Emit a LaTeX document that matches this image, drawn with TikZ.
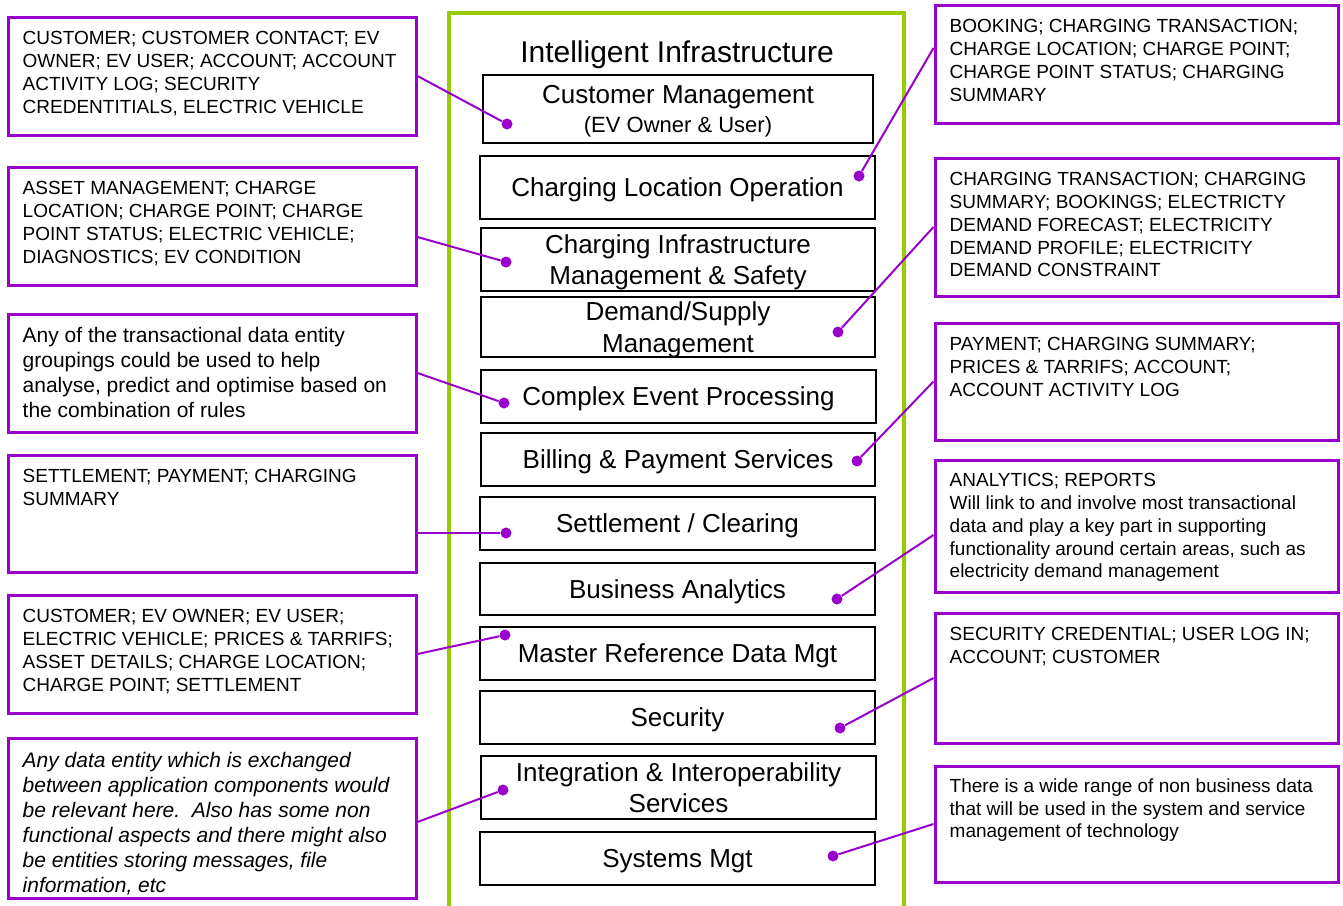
\documentclass[tikz,border=0pt]{standalone}
\usepackage{fontspec}
\setmainfont{Liberation Sans}
\definecolor{evpurple}{RGB}{153,0,204}
\definecolor{evgreen}{RGB}{153,204,0}
\tikzset{
	layer/.style={draw=black, line width=1.2pt, align=center, inner sep=0pt, text depth=0pt, font=\fontsize{26}{31.5}\selectfont},
	sidebox/.style={draw=evpurple, line width=3pt, minimum width=408pt, inner sep=0pt},
	sidetext/.style={anchor=north west, align=left, inner sep=0pt, font=\fontsize{19}{22.7}\selectfont},
	notetext/.style={anchor=north west, align=left, inner sep=0pt, font=\fontsize{21}{25}\selectfont},
	dot/.style={circle, fill=evpurple, inner sep=0pt, minimum size=11pt},
	link/.style={draw=evpurple, line width=2pt}
}
\begin{document}
\begin{tikzpicture}[x=1pt,y=-1pt]
		\useasboundingbox (0,0) rectangle (1343,905);
		\draw[evgreen, line width=4pt] (449,915) -- (449,13) -- (904,13) -- (904,915);
		\node[font=\fontsize{30}{36}\selectfont] (title) at (677,55) {Intelligent Infrastructure};
		
		\node[layer, minimum width=390pt, minimum height=68pt] (B1) at (678,109) {Customer Management\\[-3pt]{\fontsize{22}{26}\selectfont (EV Owner \& User)}};
		\node[layer, minimum width=395pt, minimum height=63pt] (B2) at (677.5,187.5) {Charging Location Operation};
		\node[layer, minimum width=394pt, minimum height=63pt] (B3) at (678,259.5) {Charging Infrastructure\\Management \& Safety};
		\node[layer, minimum width=394pt, minimum height=60pt] (B4) at (678,327) {Demand/Supply\\Management};
		\node[layer, minimum width=395pt, minimum height=53pt] (B5) at (678.5,396.5) {Complex Event Processing};
		\node[layer, minimum width=394pt, minimum height=53pt] (B6) at (678,459.5) {Billing \& Payment Services};
		\node[layer, minimum width=395pt, minimum height=53pt] (B7) at (677.5,523.5) {Settlement / Clearing};
		\node[layer, minimum width=395pt, minimum height=52pt] (B8) at (677.5,589) {Business Analytics};
		\node[layer, minimum width=395pt, minimum height=53pt] (B9) at (677.5,653.5) {Master Reference Data Mgt};
		\node[layer, minimum width=395pt, minimum height=53pt] (B10) at (677.5,717.5) {Security};
		\node[layer, minimum width=395pt, minimum height=63pt] (B11) at (678.5,787.5) {Integration \& Interoperability\\Services};
		\node[layer, minimum width=395pt, minimum height=53pt] (B12) at (677.5,858.5) {Systems Mgt};
		
		\node[sidebox, minimum height=118pt] (L1) at (212,76) {};
		\node[sidebox, minimum height=118pt] (L2) at (212,226) {};
		\node[sidebox, minimum height=118pt] (L3) at (212,373) {};
		\node[sidebox, minimum height=117pt] (L4) at (212,513.5) {};
		\node[sidebox, minimum height=118pt] (L5) at (212,654) {};
		\node[sidebox, minimum height=160pt] (L6) at (212,818) {};
		\node[sidebox, minimum width=403pt, minimum height=118pt] (R1) at (1136.5,64) {};
		\node[sidebox, minimum width=403pt, minimum height=138pt] (R2) at (1136.5,227) {};
		\node[sidebox, minimum width=403pt, minimum height=117pt] (R3) at (1136.5,381.5) {};
		\node[sidebox, minimum width=403pt, minimum height=132pt] (R4) at (1136.5,526) {};
		\node[sidebox, minimum width=403pt, minimum height=130pt] (R5) at (1136.5,678) {};
		\node[sidebox, minimum width=403pt, minimum height=116pt] (R6) at (1136.5,824) {};
		
		\node[sidetext] (L1t) at ([xshift=16pt,yshift=-16pt]L1.north west) {CUSTOMER; CUSTOMER CONTACT; EV\\OWNER; EV USER; ACCOUNT; ACCOUNT\\ACTIVITY LOG; SECURITY\\CREDENTITIALS, ELECTRIC VEHICLE};
		\node[sidetext] (L2t) at ([xshift=16pt,yshift=-16pt]L2.north west) {ASSET MANAGEMENT; CHARGE\\LOCATION; CHARGE POINT; CHARGE\\POINT STATUS; ELECTRIC VEHICLE;\\DIAGNOSTICS; EV CONDITION};
		\node[notetext] (L3t) at ([xshift=16pt,yshift=-15pt]L3.north west) {Any of the transactional data entity\\groupings could be used to help\\analyse, predict and optimise based on\\the combination of rules};
		\node[sidetext] (L4t) at ([xshift=16pt,yshift=-16pt]L4.north west) {SETTLEMENT; PAYMENT; CHARGING\\SUMMARY};
		\node[sidetext] (L5t) at ([xshift=16pt,yshift=-16pt]L5.north west) {CUSTOMER; EV OWNER; EV USER;\\ELECTRIC VEHICLE; PRICES \& TARRIFS;\\ASSET DETAILS; CHARGE LOCATION;\\CHARGE POINT; SETTLEMENT};
		\node[notetext, font=\fontsize{21}{25}\selectfont\itshape] (L6t) at ([xshift=16pt,yshift=-16pt]L6.north west) {Any data entity which is exchanged\\between application components would\\be relevant here.\ \ Also has some non\\functional aspects and there might also\\be entities storing messages, file\\information, etc};
		\node[sidetext] (R1t) at ([xshift=16pt,yshift=-16pt]R1.north west) {BOOKING; CHARGING TRANSACTION;\\CHARGE LOCATION; CHARGE POINT;\\CHARGE POINT STATUS; CHARGING\\SUMMARY};
		\node[sidetext] (R2t) at ([xshift=16pt,yshift=-16pt]R2.north west) {CHARGING TRANSACTION; CHARGING\\SUMMARY; BOOKINGS; ELECTRICTY\\DEMAND FORECAST; ELECTRICITY\\DEMAND PROFILE; ELECTRICITY\\DEMAND CONSTRAINT};
		\node[sidetext] (R3t) at ([xshift=16pt,yshift=-16pt]R3.north west) {PAYMENT; CHARGING SUMMARY;\\PRICES \& TARRIFS; ACCOUNT;\\ACCOUNT ACTIVITY LOG};
		\node[sidetext] (R4t) at ([xshift=16pt,yshift=-15pt]R4.north west) {ANALYTICS; REPORTS\\Will link to and involve most transactional\\data and play a key part in supporting\\functionality around certain areas, such as\\electricity demand management};
		\node[sidetext] (R5t) at ([xshift=16pt,yshift=-16pt]R5.north west) {SECURITY CREDENTIAL; USER LOG IN;\\ACCOUNT; CUSTOMER};
		\node[sidetext] (R6t) at ([xshift=16pt,yshift=-14pt]R6.north west) {There is a wide range of non business data\\that will be used in the system and service\\management of technology};
		
		\node[dot] (d1) at (507,124) {};
		\node[dot] (d2) at (506,262) {};
		\node[dot] (d3) at (504,403) {};
		\node[dot] (d4) at (506,533) {};
		\node[dot] (d5) at (505,635) {};
		\node[dot] (d6) at (503,790) {};
		\node[dot] (r1) at (859,176) {};
		\node[dot] (r2) at (838,332) {};
		\node[dot] (r3) at (857,461) {};
		\node[dot] (r4) at (837,599) {};
		\node[dot] (r5) at (840,728) {};
		\node[dot] (r6) at (833,856) {};
		
		\path [link] (L1.east) edge (d1);
		\path [link] ([yshift=-11pt]L2.east) edge (d2);
		\path [link] (L3.east) edge (d3);
		\path [link] (L4.east |- d4) edge (d4);
		\path [link] (L5.east) edge (d5);
		\path [link] ([yshift=-4pt]L6.east) edge (d6);
		\path [link] ([yshift=16pt]R1.west) edge (r1);
		\path [link] (R2.west) edge (r2);
		\path [link] (R3.west) edge (r3);
		\path [link] ([yshift=-9pt]R4.west) edge (r4);
		\path [link] (R5.west) edge (r5);
		\path [link] (R6.west) edge (r6);
		\end{tikzpicture}
\end{document}
